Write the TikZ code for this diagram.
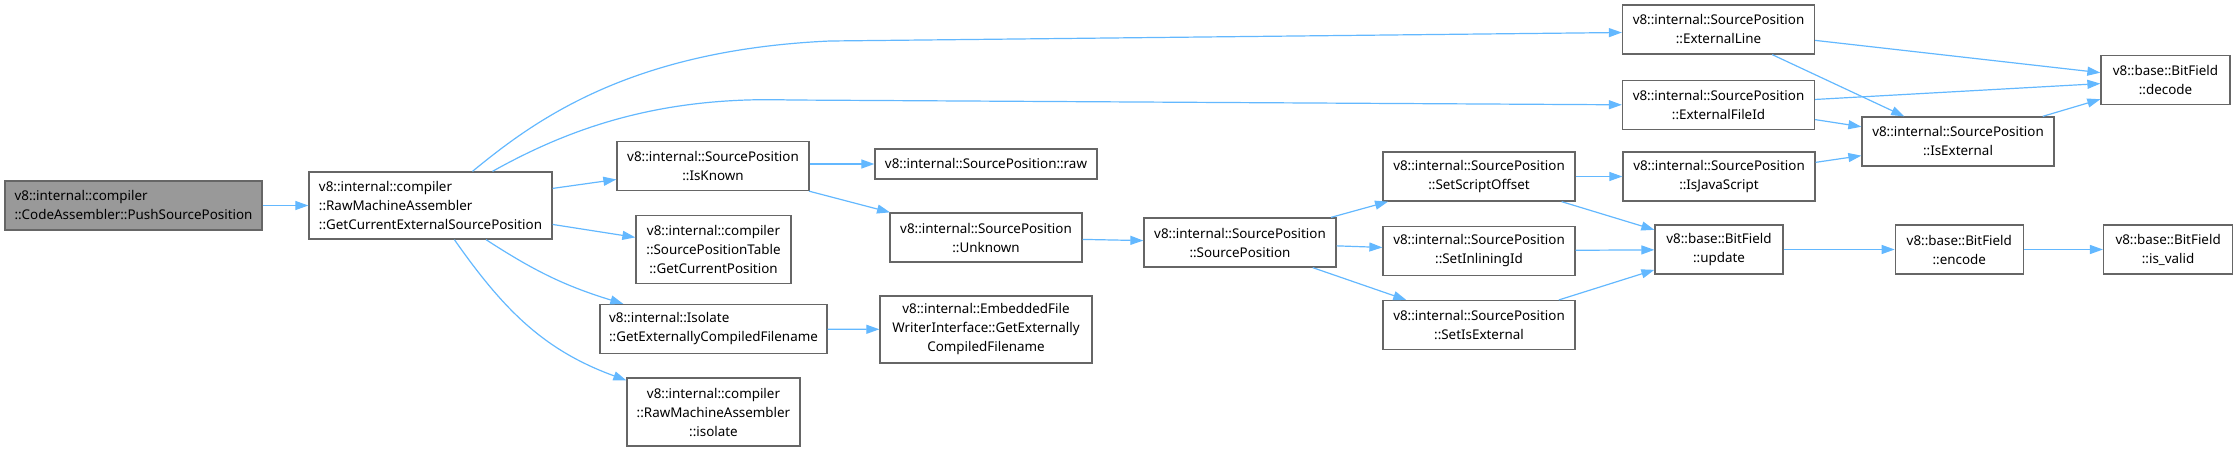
\documentclass[tikz,border=0pt]{standalone}
\usepackage{fontspec}
\setmainfont{Noto Sans}
\usetikzlibrary{arrows.meta,positioning}
\definecolor{edgeblue}{HTML}{63B8FF}
\definecolor{boxline}{HTML}{666666}
\definecolor{startgray}{HTML}{999999}

\begin{document}
\begin{tikzpicture}[
    x=1pt, y=-1pt,
    fnbox/.style={rectangle, draw=boxline, fill=white, line width=1.3pt,
                 inner sep=0pt, font=\fontsize{13.4}{19}\selectfont,
                 align=center, minimum height=49pt},
    spbox/.style={fnbox, minimum width=192pt},
    bfbox/.style={fnbox, minimum width=128pt},
    startbox/.style={fnbox, fill=startgray, align=left},
    arr/.style={-{Triangle[length=13pt, width=9pt]}, draw=edgeblue, line width=1.2pt},
]
    \useasboundingbox (0,0) rectangle (2235,452);

    % caller and first callee
    \node[startbox, minimum width=257pt] (push) at (133.5,205.5)
        {v8::internal::compiler\\::CodeAssembler::PushSourcePosition};
    \node[fnbox, align=left, minimum width=243pt, minimum height=67pt] (getcur) at (430.5,205.5)
        {v8::internal::compiler\\::RawMachineAssembler\\::GetCurrentExternalSourcePosition};

    % second column
    \node[spbox] (isknown) at (713,166) {v8::internal::SourcePosition\\::IsKnown};
    \node[fnbox, minimum width=155pt, minimum height=68pt] (postable) at (713.5,249.5)
        {v8::internal::compiler\\::SourcePositionTable\\::GetCurrentPosition};
    \node[fnbox, align=left, minimum width=227pt] (getext) at (713.5,329)
        {v8::internal::Isolate\\::GetExternallyCompiledFilename};
    \node[fnbox, minimum width=173pt, minimum height=68pt] (isolate) at (713.5,412)
        {v8::internal::compiler\\::RawMachineAssembler\\::isolate};

    % third column
    \node[fnbox, minimum width=222pt, minimum height=30pt] (raw) at (986,164)
        {v8::internal::SourcePosition::raw};
    \node[spbox] (unknown) at (986,237.5) {v8::internal::SourcePosition\\::Unknown};
    \node[fnbox, minimum width=212pt, minimum height=67pt] (embedded) at (986,329.5)
        {v8::internal::EmbeddedFile\\WriterInterface::GetExternally\\CompiledFilename};
    \node[spbox] (ctor) at (1240,242.5) {v8::internal::SourcePosition\\::SourcePosition};

    % setters
    \node[spbox] (setscript) at (1479,176.5) {v8::internal::SourcePosition\\::SetScriptOffset};
    \node[spbox, below=24pt of setscript] (setinlining) {v8::internal::SourcePosition\\::SetInliningId};
    \node[spbox, below=24pt of setinlining] (setisext) {v8::internal::SourcePosition\\::SetIsExternal};

    % accessors
    \node[spbox] (extline) at (1718.5,29.5) {v8::internal::SourcePosition\\::ExternalLine};
    \node[spbox, below=25pt of extline] (extfile) {v8::internal::SourcePosition\\::ExternalFileId};
    \node[spbox] (isjs) at (1719,176.5) {v8::internal::SourcePosition\\::IsJavaScript};
    \node[spbox] (isext) at (1958,141.5) {v8::internal::SourcePosition\\::IsExternal};

    % bit fields
    \node[bfbox, minimum width=129pt] (decode) at (2165.5,80) {v8::base::BitField\\::decode};
    \node[bfbox] (update) at (1719,249.5) {v8::base::BitField\\::update};
    \node[bfbox, right=111pt of update] (encode) {v8::base::BitField\\::encode};
    \node[bfbox, minimum width=129pt, right=79pt of encode] (isvalid) {v8::base::BitField\\::is\_valid};

    % calls
    \draw[arr] (push) -- (getcur);
    \draw[arr] ([xshift=42pt]getcur.north) .. controls (535,120) and (630,50) .. (830,41)
        -- ([yshift=-3pt]extline.west);
    \draw[arr] ([xshift=62pt]getcur.north) .. controls (570,128) and (660,96) .. (790,100)
        -- (extfile.west);
    \draw[arr] (getcur) -- (isknown);
    \draw[arr] (getcur) -- (postable);
    \draw[arr] (getcur) to[bend right=8] (getext);
    \draw[arr] (getcur) to[out=-55, in=160] (isolate);
    \draw[arr] (isknown.east |- raw.west) -- (raw.west);
    \draw[arr] (isknown) -- (unknown);
    \draw[arr] (getext) -- (embedded);
    \draw[arr] (unknown) -- (ctor);
    \draw[arr] (ctor) -- (setscript);
    \draw[arr] (ctor) -- (setinlining);
    \draw[arr] (ctor) -- (setisext);
    \draw[arr] (setscript) -- (isjs);
    \draw[arr] (setscript) -- (update);
    \draw[arr] (setinlining) -- (update);
    \draw[arr] (setisext) -- (update);
    \draw[arr] (isjs) -- (isext);
    \draw[arr] (extline) -- (decode);
    \draw[arr] (extline) -- (isext);
    \draw[arr] (extfile) -- (decode);
    \draw[arr] (extfile) -- (isext);
    \draw[arr] (isext) -- (decode);
    \draw[arr] (update) -- (encode);
    \draw[arr] (encode) -- (isvalid);
\end{tikzpicture}
\end{document}
